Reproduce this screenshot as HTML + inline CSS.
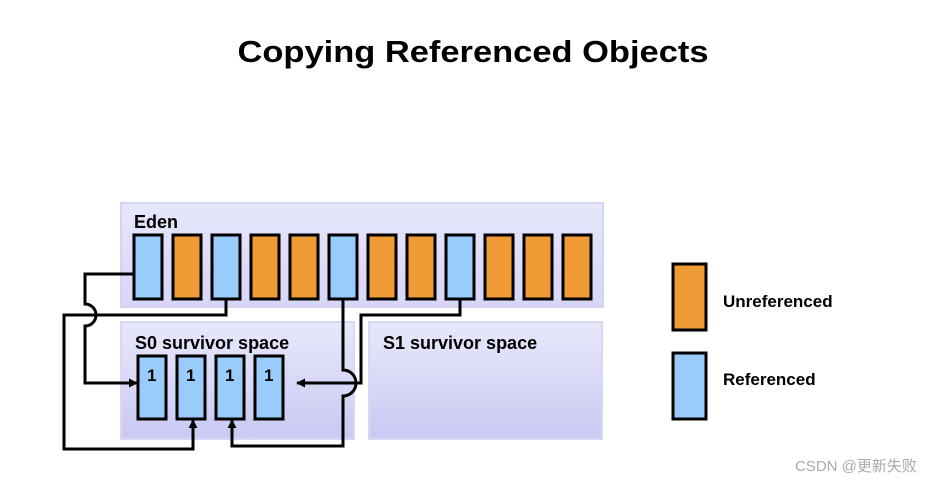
<!DOCTYPE html>
<html><head><meta charset="utf-8"><style>
html,body{margin:0;padding:0;background:#fff;}
svg{display:block;}
text{font-family:"Liberation Sans",Arial,sans-serif;font-weight:bold;fill:#000;}
</style></head><body>
<svg width="948" height="492" viewBox="0 0 948 492" xmlns="http://www.w3.org/2000/svg">
<defs>
<linearGradient id="g1" x1="0" y1="0" x2="0" y2="1">
<stop offset="0" stop-color="#e6e6fb"/><stop offset="1" stop-color="#d6d6f7"/></linearGradient>
<linearGradient id="g2" x1="0" y1="0" x2="0" y2="1">
<stop offset="0" stop-color="#e8e8fb"/><stop offset="1" stop-color="#c9c9f3"/></linearGradient>
<marker id="ar" viewBox="0 0 10 10" refX="9" refY="5" markerWidth="9" markerHeight="9" markerUnits="userSpaceOnUse" orient="auto">
<path d="M0,0 L10,5 L0,10 z" fill="#000"/></marker>
</defs>
<text x="473" y="62" font-size="31" text-anchor="middle" textLength="471" lengthAdjust="spacingAndGlyphs">Copying Referenced Objects</text>

<rect x="121" y="203" width="482" height="104" fill="url(#g1)" stroke="#d4d4f2" stroke-width="2"/>
<rect x="121" y="322" width="233" height="117" fill="url(#g2)" stroke="#d8d8f4" stroke-width="2"/>
<rect x="369" y="322" width="233" height="117" fill="url(#g2)" stroke="#d8d8f4" stroke-width="2"/>
<text x="134" y="228" font-size="18">Eden</text>
<text x="135" y="349" font-size="18">S0 survivor space</text>
<text x="383" y="349" font-size="18">S1 survivor space</text>

<g stroke="#000" stroke-width="3">
<rect x="134" y="235" width="28" height="64" fill="#99ccfa"/>
<rect x="173" y="235" width="28" height="64" fill="#f09b36"/>
<rect x="212" y="235" width="28" height="64" fill="#99ccfa"/>
<rect x="251" y="235" width="28" height="64" fill="#f09b36"/>
<rect x="290" y="235" width="28" height="64" fill="#f09b36"/>
<rect x="329" y="235" width="28" height="64" fill="#99ccfa"/>
<rect x="368" y="235" width="28" height="64" fill="#f09b36"/>
<rect x="407" y="235" width="28" height="64" fill="#f09b36"/>
<rect x="446" y="235" width="28" height="64" fill="#99ccfa"/>
<rect x="485" y="235" width="28" height="64" fill="#f09b36"/>
<rect x="524" y="235" width="28" height="64" fill="#f09b36"/>
<rect x="563" y="235" width="28" height="64" fill="#f09b36"/>

<rect x="138" y="356" width="28" height="63" fill="#99ccfa"/>
<rect x="177" y="356" width="28" height="63" fill="#99ccfa"/>
<rect x="216" y="356" width="28" height="63" fill="#99ccfa"/>
<rect x="255" y="356" width="28" height="63" fill="#99ccfa"/>

<rect x="673" y="264" width="33" height="66" fill="#f09b36"/>
<rect x="673" y="353" width="33" height="66" fill="#99ccfa"/>
</g>
<g font-size="17"><text x="147" y="381">1</text><text x="186" y="381">1</text><text x="225" y="381">1</text><text x="264" y="381">1</text></g>

<g fill="none" stroke="#000" stroke-width="3">
<path d="M134,274 H85 V304 A11,11 0 0 1 85,326 V383 H137" marker-end="url(#ar)"/>
<path d="M226,299 V315 H64 V449 H193 V420" marker-end="url(#ar)"/>
<path d="M343,299 V370 A11,11 0 0 1 343,396 V446 H232 V420" marker-end="url(#ar)"/>
<path d="M460,299 V315 H361 V383 H297" marker-end="url(#ar)"/>
</g>

<text x="723" y="307" font-size="17">Unreferenced</text>
<text x="723" y="385" font-size="17">Referenced</text>
<text x="795" y="471" font-size="15" style="font-weight:normal;fill:#aaa;font-family:'Liberation Sans','Noto Sans CJK SC',sans-serif">CSDN @更新失败</text>
</svg>
</body></html>
